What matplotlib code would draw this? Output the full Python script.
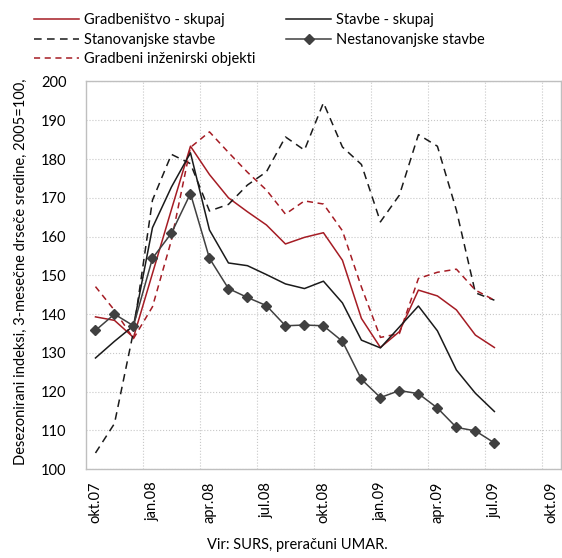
import numpy as np
import matplotlib
matplotlib.use('Agg')
import matplotlib.pyplot as plt

plt.rcParams['font.family'] = ['Lato', 'DejaVu Sans']

# mesečni podatki okt.07 - jul.09
gradbenistvo = [139.3, 138.4, 134.0, 150.5, 167.0, 183.3, 176.0, 170.0, 166.4, 163.0, 158.1,
                159.8, 161.0, 153.9, 138.9, 131.4, 135.5, 146.2, 144.7, 141.1, 134.6, 131.4]
stavbe = [128.7, 133.0, 137.0, 162.3, 172.8, 181.6, 161.7, 153.2, 152.5, 150.2, 147.8,
          146.6, 148.5, 142.9, 133.3, 131.3, 136.7, 142.1, 135.7, 125.6, 119.6, 114.9]
stanovanjske = [104.2, 111.8, 135.5, 169.4, 181.2, 178.8, 166.6, 168.3, 173.3, 176.7, 185.7,
                182.3, 194.5, 183.1, 178.6, 163.8, 170.7, 186.3, 183.3, 166.8, 145.5, 143.6]
nestanovanjske = [135.8, 140.0, 137.0, 154.4, 160.9, 171.1, 154.4, 146.6, 144.3, 142.2, 137.0,
                  137.2, 137.0, 133.0, 123.2, 118.5, 120.3, 119.5, 115.8, 110.8, 109.9, 106.8]
inzenirski = [147.1, 141.0, 133.7, 141.9, 159.1, 183.0, 187.0, 181.7, 176.6, 172.0, 165.8,
              169.2, 168.4, 161.5, 147.0, 134.0, 135.0, 149.2, 150.8, 151.6, 146.2, 143.6]

tick_labels = ['okt.07', 'jan.08', 'apr.08', 'jul.08', 'okt.08', 'jan.09', 'apr.09', 'jul.09', 'okt.09']

rdeca = '#A51C24'
crna = '#1A1A1A'
siva = '#404040'

x = np.arange(len(gradbenistvo))

fig = plt.figure(figsize=(5.62, 5.58), dpi=100)
ax = fig.add_axes([0.153, 0.159, 0.845, 0.695])

l1, = ax.plot(x, gradbenistvo, color=rdeca, lw=1.1, label='Gradbeništvo - skupaj')
l3, = ax.plot(x, stanovanjske, color=crna, lw=1.1, ls=(0, (5, 3.5)), label='Stanovanjske stavbe')
l5, = ax.plot(x, inzenirski, color=rdeca, lw=1.1, ls=(0, (4, 3)), label='Gradbeni inženirski objekti')
l2, = ax.plot(x, stavbe, color=crna, lw=1.1, label='Stavbe - skupaj')
l4, = ax.plot(x, nestanovanjske, color=siva, lw=1.1, marker='D', ms=5.5, label='Nestanovanjske stavbe')

ax.set_xlim(-0.5, 24.5)
ax.set_ylim(100, 200)
ax.set_yticks(np.arange(100, 201, 10))
ax.set_xticks(np.arange(0, 25, 3))
ax.set_xticklabels(tick_labels, rotation=90, fontsize=10.5)
ax.set_xticks(np.arange(2.5, 24, 3), minor=True)
ax.tick_params(axis='both', which='both', length=0)
ax.tick_params(axis='y', labelsize=10.5, pad=14)
ax.tick_params(axis='x', pad=9)

ax.grid(axis='y', which='major', color='#C8C8C8', ls=':', lw=0.8)
ax.grid(axis='x', which='minor', color='#C8C8C8', ls=':', lw=0.8)
for s in ax.spines.values():
    s.set_color('#BFBFBF')
    s.set_linewidth(1.0)

ax.set_ylabel('Desezonirani indeksi, 3-mesečne drseče sredine, 2005=100,', fontsize=10.5)
ax.yaxis.set_label_coords(-0.122, 0.51)

fig.legend(handles=[l1, l3, l5, l2, l4], loc='upper left', bbox_to_anchor=(0.06, 0.976),
           ncol=2, frameon=False, fontsize=10.5, handlelength=3.1, handletextpad=0.35,
           labelspacing=0.36, columnspacing=2.1, borderpad=0, borderaxespad=0)

fig.text(0.53, 0.01, 'Vir: SURS, preračuni UMAR.', ha='center', va='bottom', fontsize=10.5)

fig.savefig('out.png', dpi=100)
